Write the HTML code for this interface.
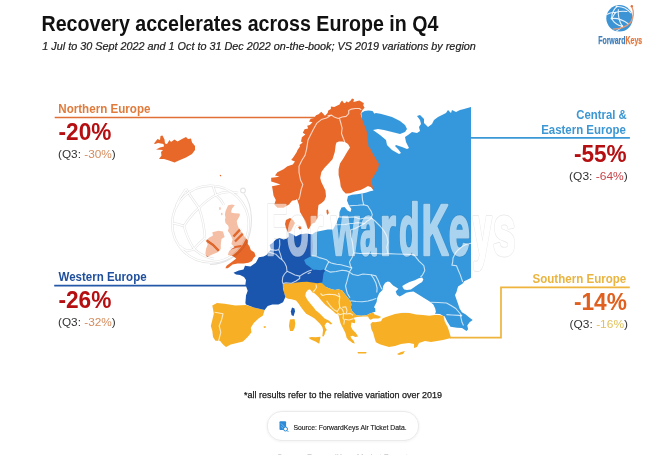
<!DOCTYPE html>
<html><head><meta charset="utf-8">
<style>
html,body{margin:0;padding:0;background:#fff;}
body{width:650px;height:455px;overflow:hidden;position:relative;}
svg{position:absolute;left:0;top:0;filter:blur(0.35px);}
text{font-family:"Liberation Sans",Arial,sans-serif;}
</style></head><body>
<svg width="650" height="455" viewBox="0 0 650 455">
<defs>
  <filter id="blur1" x="-5%" y="-5%" width="110%" height="110%"><feGaussianBlur stdDeviation="0.35"/></filter>
  <filter id="pillsh" x="-10%" y="-30%" width="120%" height="160%"><feDropShadow dx="0" dy="0.5" stdDeviation="1" flood-color="#000" flood-opacity="0.08"/></filter>
</defs>
<!-- Title -->
<text x="41.51" y="30.6" font-size="22" font-weight="bold" fill="#111" textLength="396.92" lengthAdjust="spacingAndGlyphs">Recovery accelerates across Europe in Q4</text>
<text x="42.3" y="50.3" font-size="10.6" font-style="italic" fill="#222" textLength="433.54" lengthAdjust="spacingAndGlyphs" stroke="#222" stroke-width="0.2">1 Jul to 30 Sept 2022 and 1 Oct to 31 Dec 2022 on-the-book; VS 2019 variations by region</text>
<!-- connector lines -->
<line x1="54.7" y1="117.5" x2="316" y2="117.5" stroke="#e07035" stroke-width="1.7"/>
<line x1="54.2" y1="285.7" x2="246" y2="285.7" stroke="#2458a8" stroke-width="1.7"/>
<line x1="470" y1="137.8" x2="629.9" y2="137.8" stroke="#3a98d6" stroke-width="1.7"/>
<polyline points="629.8,287.4 501,287.4 501,337.6 450,337.6" fill="none" stroke="#eeb43c" stroke-width="1.7"/>

<!-- MAP -->
<g id="map">
<path d="M361.3,113.1 L364.6,111.1 L368.5,110.4 L372.5,111.1 L374.5,113.7 L375.8,113.1 L380.4,113.7 L385,115.1 L392,117 L400,121 L405,125 L407,129 L405,132 L400,134 L392,132 L384,130 L378,129 L373,130 L380,135 L386,140 L387,145 L392,150 L399,154 L401,153 L398,149 L395,146 L396,145 L402,147 L407,149 L409,148 L406,142 L405,137 L408,135 L412,132 L417,133 L420,131 L419,127 L421,124 L420,120 L417,116 L420,115 L424,119 L424,123 L428,127 L432,124 L434,120 L438,117 L442,115 L446,113 L448,110 L451,113 L452,110 L456,112 L460,110 L464,109 L471,107 L471,277.4 L470.4,278.2 L467.3,279.7 L464.2,281.2 L462.7,283.5 L460.4,285.1 L458.1,286.6 L457.3,288.9 L456.5,292 L455,295.1 L455.8,297.5 L456.5,299.5 L458,303.8 L459.6,308.5 L461.9,312.3 L465.8,314.6 L469.6,317.7 L472.7,320 L469.6,322.3 L467.3,325.4 L468.1,329.2 L466.5,331 L462,328 L457,327.8 L450.5,326.8 L447.5,322 L445,317 L440,314 L420,313 L400,312 L378,312 L374,312 L370,313.5 L366.6,315.2 L361.4,315.8 L356.1,315.2 L354.1,313.2 L352.1,311 L350.8,307.7 L351.4,304.4 L350.8,301.8 L348.8,299.1 L346.8,296.5 L344.2,293.2 L342.2,290.5 L338.2,289.2 L335,289.9 L331.6,289.2 L326.4,287.3 L322.4,285.9 L318,282 L300,278 L298,258 L302,240 L310,236 L315.4,232 L327.7,229.6 L333,229.5 L335.6,224.8 L336.9,222.2 L338.2,218.2 L339.3,216.9 L339.5,212 L341.5,207.5 L344.5,207 L347.5,210.5 L350.5,212 L351.4,209 L349.2,205.9 L347,200.4 L348,196 L352,194.8 L357,194.2 L362,193.6 L366.5,192.5 L370,191.2 L373.5,190.5 L370,185 L366,150 L362,120 Z" fill="#3598dc" />
<path d="M375.3,308.5 L374,307.2 L376.6,301.9 L377.2,298 L379.2,293.3 L382.5,290 L383.2,286.1 L385.2,282.8 L387.8,281.5 L389.8,282.1 L393.1,285.4 L396.4,287.4 L398.3,288.7 L395.7,291.4 L397,294.7 L399.7,296.6 L403,294.7 L406.2,292.7 L409.5,292 L413.5,291.4 L418.8,294.7 L424,298 L429.3,301.2 L433.3,304.5 L435.2,308.5 L435.9,311.8 L434.6,315.1 L429.3,315.7 L422.7,315.1 L416.1,314.4 L409.5,313.1 L403,312.4 L396.4,313.1 L389.8,314.4 L383.2,315.7 L377.9,317.1 L375.3,315.7 Z" fill="#fff" />
<path d="M403,288.1 L402.3,286.1 L405.6,284.1 L409.5,282.1 L414.8,280.2 L418.8,278.2 L422.1,277.5 L423.4,279.5 L422.1,282.1 L418.8,284.1 L414.8,286.7 L410.9,289.4 L406.9,290 L404.3,289.4 Z" fill="#fff" />
<path d="M300,280 L305.8,281 L310.4,281.5 L314.2,282 L318,282 L322.4,283.5 L324,285 L326.4,287.3 L331.6,289.2 L335,289.9 L338.2,289.2 L342.2,290.5 L344.2,293.2 L346.8,296.5 L348.8,299.1 L350.8,301.8 L351.4,304.4 L350.8,307.7 L352.1,311 L354.1,313.2 L356.1,315.2 L361.4,315.8 L366.6,315.2 L370,313.5 L373.2,312.5 L374.6,314.5 L378.5,315.8 L381.2,317.1 L378.5,318.5 L373.2,318.5 L370.6,319.8 L368.6,318.5 L367.3,316.5 L362.5,316.6 L357,317.1 L353.7,317.7 L355.3,321 L354.8,323.2 L351.5,322.5 L350.9,326.5 L352.6,329.8 L355.9,333.1 L358.1,336.4 L355.3,336.9 L352.6,335.8 L350.4,336.4 L351.5,338.6 L353.7,340.8 L354.8,343.5 L352.6,343 L350.4,341.3 L348.2,339.7 L346.5,337.5 L346,335.3 L345.4,333.1 L343.8,329.8 L342.1,326.5 L340.5,323.2 L339.4,318.8 L338.3,314.4 L335.6,313.6 L333,311 L329,307.7 L325,304.4 L321.8,301.1 L318.5,297.1 L314.5,293.2 L312.5,292.5 L309.9,289.2 L307.9,289.9 L305.9,292.5 L305.3,295.8 L307.3,299.8 L310.5,303.7 L314.5,308.4 L315.4,310 L320,313.8 L324.6,318.5 L329.2,320.8 L332.3,323.8 L330.8,324.6 L327.7,322.3 L326.2,323.1 L324.6,325.4 L325.4,327.7 L326.9,330 L325.4,331.5 L324.6,334.6 L323.5,336.5 L322.3,336.2 L322.7,333.1 L323.1,330 L322.3,326.9 L320,323.8 L317.7,321.5 L314.6,318.5 L310.8,316.2 L306.2,313.8 L303.1,310 L300.5,306.5 L298.5,303.5 L296,300.5 L291.6,299.3 L288,298.8 L285.5,297.5 L283.5,291 L282.5,284 L288,282.5 L294,281.5 Z" fill="#f7b025" />
<path d="M370.5,324 L372.5,322 L375,322.3 L378,321.8 L381,321.2 L382.5,318.5 L386,317 L389,316 L395,314 L401,313 L409.5,313.1 L416.1,314.4 L422.7,315.1 L429.3,315.7 L434.6,315.1 L439,315 L444,316 L445,321 L447,325 L449,331 L451,338 L443,340 L437,341 L431,342 L425,341 L419,343 L417,347 L414,348 L414,344 L409,343 L401,344 L395,346 L389,347 L383.8,345.5 L379.8,344.2 L375.9,342.2 L374.6,338.2 L373.2,333 L371.3,329 Z" fill="#f7b025" />
<path d="M212.3,305.4 L217,303 L224.6,303.8 L235.4,305.4 L246,305 L253.8,307.5 L264.6,310 L263,315.4 L258.5,318.5 L253.8,323 L250.8,327.7 L251.5,332.3 L247.7,337 L243,341.5 L237,343 L230.8,344.6 L226,347 L223,344.6 L220,340.8 L215.4,340.8 L213,337 L212.3,330.8 L210.8,326 L212.3,320 L213.8,313.8 L213,309 Z" fill="#f7b025" />
<path d="M290,319.5 L294.5,319 L295.3,323.5 L294.6,328 L293,331 L290,331 L289,326 L289.5,322 Z" fill="#f7b025" />
<path d="M308.5,337.7 L311.5,336.9 L315.4,337.3 L320.5,336.8 L319.8,340.8 L319.2,343.8 L315.4,341.5 L310.8,339.6 Z" fill="#f7b025" />
<path d="M357.4,352.1 L366.6,352.1 L366,353.4 L358.1,353.4 Z" fill="#f7b025" />
<path d="M397,354 L401,352 L405,351 L403,354 L399,355 Z" fill="#f7b025" />
<path d="M263.5,326.5 L265.5,326 L266,327.5 L264,328 Z" fill="#f7b025" />
<path d="M233.5,272.7 L238.8,270.4 L243.5,269.6 L245,265.8 L250.4,266.5 L255.8,262.7 L258.8,257.3 L263.5,256.5 L266.5,255 L268.8,252 L271,249.6 L269.6,245 L272.7,242.7 L275.8,239.6 L279.6,238 L283.5,239.6 L286.5,238.8 L288.8,236.5 L288.5,232.5 L292.7,234.2 L295.8,236.5 L300.4,234.2 L306.5,233.5 L311,234.2 L312.3,234.2 L312.5,240 L313,246.5 L312.5,252 L311.9,255.8 L307.1,258.2 L304.1,260 L305.9,264.2 L309.5,266.7 L313.1,269.7 L316.1,269.7 L320.4,270.3 L324,269.4 L326,270.5 L324,272 L323.4,273.9 L322.8,278.7 L322.3,282.3 L317.7,283.3 L312.3,282.5 L307,281.8 L301.5,282 L296.5,282.5 L291.3,283.6 L286,283.5 L282.8,283.8 L283,289 L285.4,297 L283,302.3 L278.5,304.6 L272.3,304.6 L267.7,306 L264.6,310 L253.8,307.5 L246,304.6 L245.4,303 L246,295.4 L247.7,290.8 L245.4,284.6 L246,280 L244,277 L240,275 L236,274.5 Z" fill="#1a56ae" />
<path d="M292,307.5 L294.5,308.5 L295,311.5 L293.5,316.3 L291.5,315 L290.8,311.5 Z" fill="#1a56ae" />
<path d="M154,143.5 L157.5,139 L160,140 L160.5,136 L162.5,135.5 L164.5,139.5 L165,143.5 L167,144 L169.5,140 L171,142 L174.5,139.5 L177.5,141.5 L182,139 L186,137 L188,139 L191,138.5 L192,142.5 L195,146 L195,150 L192,154 L186,157.5 L180,160 L174.5,162.5 L169,160.5 L164,159 L159,159 L161.5,155.5 L161,152 L163,150 L156,149.5 L160,147.5 L164,146.5 L163.5,144 L158,143 L155,144 Z" fill="#e8682a" />
<path d="M219.8,174.8 L221,175 L221.2,176.2 L220,176.3 Z" fill="#e8682a" />
<path d="M228.2,205.3 L232.1,204.6 L234.8,205.3 L232.1,208.5 L231.2,211.2 L231.5,212.8 L234.8,213.2 L239.4,213.5 L240,215.1 L238.7,217.8 L236.8,221.1 L237.4,224.4 L238.7,228 L239.9,229.5 L242.3,233.1 L244.7,236.8 L247.8,240.4 L247.8,244 L249.6,246.4 L250.8,250.1 L254.4,252.5 L255.6,256.1 L253.2,258.5 L252,261 L248.4,262.8 L243.5,263.4 L237.5,263.4 L232.6,264.6 L227.8,268.2 L225.4,268.2 L226.6,265.8 L231.4,262.2 L236.3,258.5 L232.6,256.1 L227.8,254.9 L229,251.3 L231.4,248.9 L234.5,247 L231.4,244 L232.6,239.2 L230.2,234.3 L227.8,230.7 L228.8,228 L228.2,225.7 L225.5,223 L224.9,219.8 L225.5,217.8 L224.9,214.5 L225.5,211.2 L226.9,207.9 Z" fill="#e8682a" />
<path d="M219,207.5 L220.5,207 L220.8,209.5 L219.5,210 Z" fill="#e8682a" />
<path d="M221,213 L222.3,212.8 L222.5,215 L221.3,215.2 Z" fill="#e8682a" />
<path d="M212.3,232.3 L218.5,230.8 L223,231.5 L224.6,237 L221.5,239 L220.8,244.6 L220.8,249 L217.7,252.3 L212.3,254.6 L207,257 L205.4,253.8 L206,249 L207.7,244.6 L206,240.8 L209,237.7 L213,235.4 Z" fill="#e8682a" />
<path d="M360.6,113.7 L362.6,109.8 L364.6,107.8 L363.2,105.2 L363.9,103.2 L361.9,101.9 L359.3,100.5 L356.6,101.2 L353.4,101.9 L354,99.2 L352,98.6 L350.7,100.5 L348.1,102.5 L346.8,101.2 L344.8,103.2 L343.5,102.5 L342.1,100.5 L340.8,101.9 L339.5,104.5 L336.9,105.8 L334.2,107.1 L330.9,106.5 L330.9,109.1 L328.3,110.4 L327.6,113.1 L325,115.7 L321.3,111.7 L318.6,114.3 L316,115.2 L314.2,117.9 L310.7,118.7 L309,121.4 L312.5,122.3 L309.8,124.9 L307.2,125.8 L308.1,128.4 L304.6,129.3 L302.8,132.8 L305.4,134.6 L301.9,137.2 L301,141.6 L302.8,142.5 L299.5,145 L300,146.5 L297.5,150 L296.6,152.3 L294.5,155.5 L293.5,157 L291.2,160 L295,161.5 L292.8,164.6 L287.4,166.2 L283.5,169.2 L277.4,172.3 L275,175.4 L279.5,176.5 L276,177.3 L271.2,177.7 L271.2,181.5 L276,183 L280.5,184.6 L276,185.5 L272,186.2 L272.8,190.8 L273.5,195.4 L275.8,200 L274.3,204.6 L277.4,207.7 L283.5,207.7 L289,204.6 L292,200.8 L295.8,200 L297,199 L299,205 L300,212 L303,217 L305.2,222.5 L307.4,228 L308.8,229.2 L310.5,226 L312,223.8 L315,222.5 L317.5,218 L317.8,210.3 L318.5,205 L321.7,203.1 L324.4,200.5 L326,196.4 L325.5,190.7 L323.5,186.4 L321.3,182.1 L320.2,177.9 L321.4,172.1 L324.3,167.9 L328.6,163.6 L332.5,159.3 L334.8,152.1 L335.7,145 L336.5,142.5 L339,141.6 L342.1,141.4 L345,142.1 L348,144 L350,147.5 L347.1,152.1 L343.6,157.9 L340,163.6 L338.6,169.3 L338.6,175 L340,180.7 L340.7,186.4 L342.9,190.7 L345.7,193.6 L350.1,193.2 L355.4,191.2 L360.6,189.9 L364.6,187.9 L367.9,185.9 L371.2,187.2 L373.5,190 L372,184 L372,179 L375,174 L378,169 L379,164 L376,159 L373,154 L370,148 L368.5,146.7 L367.9,140.1 L367.2,133.5 L365.9,128.2 L363.9,124.3 L362.6,120.3 L361.3,116.4 Z" fill="#e8682a" />
<path d="M326.5,210 L328,209.5 L328.8,213 L327.5,215 L326.6,213 Z" fill="#e8682a" />
<path d="M286,220 L290,218 L293,220 L295,223 L293,227 L291,231 L288,232.5 L286,228 L285,224 Z" fill="#e8682a" />
<path d="M298,227 L301,226 L302,228.5 L299.5,229.5 Z" fill="#e8682a" />
<g fill="none" stroke="#fff" stroke-opacity="0.72" stroke-width="1.1" stroke-linejoin="round"><path d="M327.6,115.7 L331.6,115.1 L334.2,117 L338.2,118.4 L342.1,117 L346.1,116.4 L348.7,113.7 L348.7,110.4 L351.4,109.1 L355.3,108.5 L359.3,108.5 L361.3,109.8"/><path d="M330.3,115.7 L326.5,117.9 L321.3,119.6 L316.9,123.1 L313.4,129.3 L310.5,135 L308,140 L306.6,149.2 L305,155.4 L302,160 L299,166.2 L299,172.3 L300.5,180 L302.8,184.6 L301.2,189.2 L299.7,197 L298.5,200"/><path d="M339.5,118.4 L340.8,123 L342.1,128.2 L341.5,133.5 L343.5,138.8 L344.8,142.1"/><path d="M371.2,218 L369.9,219.5 L367.2,220.9 L364.6,223.5 L358,222.6 L352.7,223.5 L350.1,223.5 L345,224.5 L336,224.8"/><path d="M362,193.6 L362.4,199.3 L363.5,204.2 L364,205"/><path d="M349.2,205.9 L353,205.5 L358,205.3 L363.5,204.8 L367.9,205.9"/><path d="M367.9,205.9 L369,208 L371.2,211.4 L372.3,214.7 L371.2,218"/><path d="M339.3,216.9 L347,217.4 L354.7,216.9 L360.2,219 L364.6,218 L370.1,218 L371.2,218"/><path d="M371,274.7 L373.5,278.3 L375.9,283.1 L377.1,288 L376.8,292.5"/><path d="M353.6,252.8 L360,253.5 L368,253.2 L376,253.5 L384,254 L388,253.6"/><path d="M388,253.6 L396,254 L405,254.3 L413.9,254.6 L418.8,260.8 L423.8,265.7 L424.8,270.5 L422.6,274.8 L420.5,277"/><path d="M371.2,218 L375,221 L380,226 L384,231 L386.8,236 L388,242.3 L386.8,247.2 L388,253.6"/><path d="M364.6,223.5 L360,226 L355,228.5 L350.5,230 L351.2,237.4 L352.4,242.3 L353.6,252.8"/><path d="M353.6,252.8 L352.4,257 L349.5,262 L350.5,266 L351.8,267.9 L349.4,272.1"/><path d="M350.5,300.7 L356,301.5 L362.3,301.8 L368,301 L373.1,299.6 L376.3,298.5"/><path d="M311.9,255.8 L316.1,256.4 L319.2,257.6 L323.4,258.8 L326.4,259.7 L328.8,261.8 L331.2,263 L333.7,263.6 L336.7,264.2 L340.9,264.8 L344.5,265.7 L348.2,266.7 L351.8,267.9"/><path d="M328.8,261.8 L327,265 L325.2,269.1"/><path d="M324.5,269.5 L330,272.1 L336.1,271.5 L342.1,270.3 L347,270.9 L349.4,272.1"/><path d="M349.4,272.1 L348.2,276.3 L347,281.2 L345.5,286 L347.2,293.2 L350,297.7"/><path d="M349.4,272.1 L353,274.5 L358,275.5 L363,274 L371,274.7 L375.9,275.9 L378.3,280.7 L380.1,285.6 L381.9,289.2"/><path d="M430.4,302.3 L438,302.5 L446.5,303 L451,305.5 L455.8,308.5 L459.6,313 L462,316"/><path d="M446.5,314.6 L452,315 L458.8,315.4 L462,316"/><path d="M460.4,314.6 L461,318 L462,322.3 L463.5,325.4"/><path d="M471,243.2 L466,244.5 L462,246.6 L458,250 L455.4,253.2 L453,258 L452.7,262 L451.9,265.1 L456.5,265.8 L458.1,269.7 L460.4,275.1 L462.7,282"/><path d="M268.8,252 L272,253 L275.8,254.2 L279.6,258 L282,259.6"/><path d="M271,249.6 L275.8,250.4 L278.8,249.6"/><path d="M279.6,239.6 L279.8,245 L278.8,249.6 L280.4,254.2 L282,259.6"/><path d="M307.7,273.8 L310.8,272.3"/><path d="M282,259.6 L284.5,262.5 L286.4,266.4 L287,271.3"/><path d="M287,271.3 L284.5,274 L282.8,277 L282.3,281 L282.8,283.5"/><path d="M287,271.3 L291,273 L295,275 L299.7,276.1"/><path d="M282.8,283.5 L286,282.7 L291.3,283.2 L296.1,281 L299.7,278.5 L299.7,276.1"/><path d="M299.7,276.1 L303.4,273.7 L308.2,271.3 L311.8,270.1"/><path d="M214.6,312.3 L219,313 L223,313.8 L221.5,320 L219.2,326 L220.8,332.3 L219.2,338.5 L218.5,340.8"/><path d="M316,284.5 L316.5,287.5 L314.5,290.5 L313,292"/><path d="M320.5,293.5 L322.6,295.5 L326,294.5 L329.2,294.2 L332.5,294.5 L335.8,294.9 L339.8,296.9"/><path d="M338.5,292.9 L339.8,296.9 L339.1,302.1 L339.8,307.4"/><path d="M326.6,300.8 L328.5,303.5 L330.5,306.1 L332.5,308.3 L334.5,310.1 L337.1,311.4 L338.5,309.5 L339.8,307.4 L342.4,309.4 L343.7,312.7"/><path d="M337.1,312.7 L339.8,314.7 L343.7,313.4"/><path d="M342.4,307.4 L345.7,306.8 L347,310.1 L346.4,313.4"/><path d="M343.7,313.4 L346.4,314 L350.3,313.4 L353,315.3"/><path d="M343.7,313.4 L343.1,318 L344.4,320.6 L343.7,324.6"/><path d="M344.4,319.3 L349,320 L353.6,318.6"/><path d="M367.3,316.5 L368.5,318 L368.6,319.5"/><path d="M444,316 L445,321 L447,325 L449,327"/></g>
</g>


<!-- Watermark -->
<g id="wm">
  <defs>
    <mask id="gm" maskUnits="userSpaceOnUse" x="150" y="170" width="120" height="110">
      <circle cx="210.5" cy="224" r="38.3" fill="#fff"/>
      <g stroke="#000" stroke-width="2.2" fill="none"><path d="M186,189 Q193,200 199,208"/><path d="M199,208 Q208,199 216,195"/><path d="M216,195 Q226,190 238,193"/><path d="M199,208 Q190,216 184,226"/><path d="M184,226 Q178,224 172.5,223"/><path d="M184,226 Q187,238 194,249"/><path d="M194,249 Q203,257 214,259"/><path d="M199,208 Q204,222 205,238"/><path d="M216,195 Q221,199 224,205"/><path d="M194,249 Q186,253 180,246"/><path d="M233.5,236.5 L241,228.5"/><path d="M235,241.5 L243.5,233"/><path d="M230.5,248.5 Q236,246.5 241.5,246"/><path d="M206,240 Q213,244 219,251"/><path d="M205,238 Q198,244 194,249"/><path d="M186,189 Q180,197 176,206"/><path d="M216,195 Q214,189 213,186"/></g>
    </mask>
    <mask id="bandin" maskUnits="userSpaceOnUse" x="150" y="170" width="120" height="110">
      <rect x="150" y="170" width="120" height="110" fill="#fff"/>
      <g stroke="#000" stroke-width="1.3" fill="none"><path d="M186,189 Q193,200 199,208"/><path d="M199,208 Q208,199 216,195"/><path d="M216,195 Q226,190 238,193"/><path d="M199,208 Q190,216 184,226"/><path d="M184,226 Q178,224 172.5,223"/><path d="M184,226 Q187,238 194,249"/><path d="M194,249 Q203,257 214,259"/><path d="M199,208 Q204,222 205,238"/><path d="M216,195 Q221,199 224,205"/><path d="M194,249 Q186,253 180,246"/><path d="M233.5,236.5 L241,228.5"/><path d="M235,241.5 L243.5,233"/><path d="M230.5,248.5 Q236,246.5 241.5,246"/><path d="M206,240 Q213,244 219,251"/><path d="M205,238 Q198,244 194,249"/><path d="M186,189 Q180,197 176,206"/><path d="M216,195 Q214,189 213,186"/><circle cx="210.5" cy="224" r="38.3"/></g>
    </mask>
    <mask id="txtout" maskUnits="userSpaceOnUse" x="250" y="190" width="280" height="90">
      <rect x="250" y="190" width="280" height="90" fill="#fff"/>
      %<text x="265.87" y="255" font-size="72.5" font-weight="bold" textLength="21.55" lengthAdjust="spacingAndGlyphs" fill="#000" stroke="#000" stroke-width="2.6" stroke-linejoin="round">F</text><text x="286.71" y="255" font-size="72.5" font-weight="bold" textLength="22.03" lengthAdjust="spacingAndGlyphs" fill="#000" stroke="#000" stroke-width="2.6" stroke-linejoin="round">o</text><text x="308.68" y="255" font-size="72.5" font-weight="bold" textLength="14.24" lengthAdjust="spacingAndGlyphs" fill="#000" stroke="#000" stroke-width="2.6" stroke-linejoin="round">r</text><text x="331.2" y="255" font-size="72.5" font-weight="bold" textLength="28.1" lengthAdjust="spacingAndGlyphs" fill="#000" stroke="#000" stroke-width="2.6" stroke-linejoin="round">w</text><text x="359.88" y="255" font-size="72.5" font-weight="bold" textLength="16.44" lengthAdjust="spacingAndGlyphs" fill="#000" stroke="#000" stroke-width="2.6" stroke-linejoin="round">a</text><text x="379.71" y="255" font-size="72.5" font-weight="bold" textLength="16.29" lengthAdjust="spacingAndGlyphs" fill="#000" stroke="#000" stroke-width="2.6" stroke-linejoin="round">r</text><text x="399.01" y="255" font-size="72.5" font-weight="bold" textLength="20.55" lengthAdjust="spacingAndGlyphs" fill="#000" stroke="#000" stroke-width="2.6" stroke-linejoin="round">d</text><text x="421.58" y="255" font-size="72.5" font-weight="bold" textLength="27.43" lengthAdjust="spacingAndGlyphs" fill="#000" stroke="#000" stroke-width="2.6" stroke-linejoin="round">K</text><text x="448.63" y="255" font-size="72.5" font-weight="bold" textLength="21.09" lengthAdjust="spacingAndGlyphs" fill="#000" stroke="#000" stroke-width="2.6" stroke-linejoin="round">e</text><text x="472.63" y="255" font-size="72.5" font-weight="bold" textLength="19.03" lengthAdjust="spacingAndGlyphs" fill="#000" stroke="#000" stroke-width="2.6" stroke-linejoin="round">y</text><text x="493.12" y="255" font-size="72.5" font-weight="bold" textLength="22.54" lengthAdjust="spacingAndGlyphs" fill="#000" stroke="#000" stroke-width="2.6" stroke-linejoin="round">s</text>%
    </mask>
  </defs>
  <rect x="160" y="180" width="100" height="95" fill="#fff" fill-opacity="0.58" mask="url(#gm)"/>
  <g mask="url(#bandin)" stroke="#000" stroke-opacity="0.11" stroke-width="2.4" fill="none"><path d="M186,189 Q193,200 199,208"/><path d="M199,208 Q208,199 216,195"/><path d="M216,195 Q226,190 238,193"/><path d="M199,208 Q190,216 184,226"/><path d="M184,226 Q178,224 172.5,223"/><path d="M184,226 Q187,238 194,249"/><path d="M194,249 Q203,257 214,259"/><path d="M199,208 Q204,222 205,238"/><path d="M216,195 Q221,199 224,205"/><path d="M194,249 Q186,253 180,246"/><path d="M233.5,236.5 L241,228.5"/><path d="M235,241.5 L243.5,233"/><path d="M230.5,248.5 Q236,246.5 241.5,246"/><path d="M206,240 Q213,244 219,251"/><path d="M205,238 Q198,244 194,249"/><path d="M186,189 Q180,197 176,206"/><path d="M216,195 Q214,189 213,186"/><circle cx="210.5" cy="224" r="38.3"/></g>
  <g stroke="#000" stroke-opacity="0.11" stroke-width="1.1" fill="none">
    <path d="M244,193.5 C253,206 254,228 246,244 C238,257 224,264 210,264.5"/>
    <circle cx="243" cy="190.5" r="2.4"/>
  </g>
  <g opacity="0.58">
    %<text x="265.87" y="255" font-size="72.5" font-weight="bold" textLength="21.55" lengthAdjust="spacingAndGlyphs" fill="#fff" stroke="#fff" stroke-width="2.6" stroke-linejoin="round">F</text><text x="286.71" y="255" font-size="72.5" font-weight="bold" textLength="22.03" lengthAdjust="spacingAndGlyphs" fill="#fff" stroke="#fff" stroke-width="2.6" stroke-linejoin="round">o</text><text x="308.68" y="255" font-size="72.5" font-weight="bold" textLength="14.24" lengthAdjust="spacingAndGlyphs" fill="#fff" stroke="#fff" stroke-width="2.6" stroke-linejoin="round">r</text><text x="331.2" y="255" font-size="72.5" font-weight="bold" textLength="28.1" lengthAdjust="spacingAndGlyphs" fill="#fff" stroke="#fff" stroke-width="2.6" stroke-linejoin="round">w</text><text x="359.88" y="255" font-size="72.5" font-weight="bold" textLength="16.44" lengthAdjust="spacingAndGlyphs" fill="#fff" stroke="#fff" stroke-width="2.6" stroke-linejoin="round">a</text><text x="379.71" y="255" font-size="72.5" font-weight="bold" textLength="16.29" lengthAdjust="spacingAndGlyphs" fill="#fff" stroke="#fff" stroke-width="2.6" stroke-linejoin="round">r</text><text x="399.01" y="255" font-size="72.5" font-weight="bold" textLength="20.55" lengthAdjust="spacingAndGlyphs" fill="#fff" stroke="#fff" stroke-width="2.6" stroke-linejoin="round">d</text><text x="421.58" y="255" font-size="72.5" font-weight="bold" textLength="27.43" lengthAdjust="spacingAndGlyphs" fill="#fff" stroke="#fff" stroke-width="2.6" stroke-linejoin="round">K</text><text x="448.63" y="255" font-size="72.5" font-weight="bold" textLength="21.09" lengthAdjust="spacingAndGlyphs" fill="#fff" stroke="#fff" stroke-width="2.6" stroke-linejoin="round">e</text><text x="472.63" y="255" font-size="72.5" font-weight="bold" textLength="19.03" lengthAdjust="spacingAndGlyphs" fill="#fff" stroke="#fff" stroke-width="2.6" stroke-linejoin="round">y</text><text x="493.12" y="255" font-size="72.5" font-weight="bold" textLength="22.54" lengthAdjust="spacingAndGlyphs" fill="#fff" stroke="#fff" stroke-width="2.6" stroke-linejoin="round">s</text>%
  </g>
  %<text x="265.87" y="255" font-size="72.5" font-weight="bold" textLength="21.55" lengthAdjust="spacingAndGlyphs" fill="none" stroke="#000" stroke-opacity="0.1" stroke-width="4" stroke-linejoin="round" mask="url(#txtout)">F</text><text x="286.71" y="255" font-size="72.5" font-weight="bold" textLength="22.03" lengthAdjust="spacingAndGlyphs" fill="none" stroke="#000" stroke-opacity="0.1" stroke-width="4" stroke-linejoin="round" mask="url(#txtout)">o</text><text x="308.68" y="255" font-size="72.5" font-weight="bold" textLength="14.24" lengthAdjust="spacingAndGlyphs" fill="none" stroke="#000" stroke-opacity="0.1" stroke-width="4" stroke-linejoin="round" mask="url(#txtout)">r</text><text x="331.2" y="255" font-size="72.5" font-weight="bold" textLength="28.1" lengthAdjust="spacingAndGlyphs" fill="none" stroke="#000" stroke-opacity="0.1" stroke-width="4" stroke-linejoin="round" mask="url(#txtout)">w</text><text x="359.88" y="255" font-size="72.5" font-weight="bold" textLength="16.44" lengthAdjust="spacingAndGlyphs" fill="none" stroke="#000" stroke-opacity="0.1" stroke-width="4" stroke-linejoin="round" mask="url(#txtout)">a</text><text x="379.71" y="255" font-size="72.5" font-weight="bold" textLength="16.29" lengthAdjust="spacingAndGlyphs" fill="none" stroke="#000" stroke-opacity="0.1" stroke-width="4" stroke-linejoin="round" mask="url(#txtout)">r</text><text x="399.01" y="255" font-size="72.5" font-weight="bold" textLength="20.55" lengthAdjust="spacingAndGlyphs" fill="none" stroke="#000" stroke-opacity="0.1" stroke-width="4" stroke-linejoin="round" mask="url(#txtout)">d</text><text x="421.58" y="255" font-size="72.5" font-weight="bold" textLength="27.43" lengthAdjust="spacingAndGlyphs" fill="none" stroke="#000" stroke-opacity="0.1" stroke-width="4" stroke-linejoin="round" mask="url(#txtout)">K</text><text x="448.63" y="255" font-size="72.5" font-weight="bold" textLength="21.09" lengthAdjust="spacingAndGlyphs" fill="none" stroke="#000" stroke-opacity="0.1" stroke-width="4" stroke-linejoin="round" mask="url(#txtout)">e</text><text x="472.63" y="255" font-size="72.5" font-weight="bold" textLength="19.03" lengthAdjust="spacingAndGlyphs" fill="none" stroke="#000" stroke-opacity="0.1" stroke-width="4" stroke-linejoin="round" mask="url(#txtout)">y</text><text x="493.12" y="255" font-size="72.5" font-weight="bold" textLength="22.54" lengthAdjust="spacingAndGlyphs" fill="none" stroke="#000" stroke-opacity="0.1" stroke-width="4" stroke-linejoin="round" mask="url(#txtout)">s</text>%
</g>

<!-- Panels -->
<text x="58.26" y="112.5" font-size="12.3" font-weight="bold" fill="#e07b3c" textLength="92.21" lengthAdjust="spacingAndGlyphs">Northern Europe</text>
<text x="58.58" y="140" font-size="24.6" font-weight="bold" fill="#b50f12" textLength="52.81" lengthAdjust="spacingAndGlyphs">-20%</text>
<text x="58.0" y="157.8" font-size="11.8" fill="#333" textLength="57.7" lengthAdjust="spacingAndGlyphs">(Q3: <tspan fill="#d48c5e">-30%</tspan>)</text>
<text x="58.5" y="281.0" font-size="12.3" font-weight="bold" fill="#1f4f9c" textLength="88.07" lengthAdjust="spacingAndGlyphs">Western Europe</text>
<text x="58.38" y="308.4" font-size="24.6" font-weight="bold" fill="#b50f12" textLength="53.01" lengthAdjust="spacingAndGlyphs">-26%</text>
<text x="58.0" y="325.5" font-size="11.8" fill="#333" textLength="57.7" lengthAdjust="spacingAndGlyphs">(Q3: <tspan fill="#d48c5e">-32%</tspan>)</text>
<text x="576.3" y="118.9" font-size="12.3" font-weight="bold" fill="#3c97d3" textLength="50.42" lengthAdjust="spacingAndGlyphs">Central &amp;</text>
<text x="541.17" y="133.6" font-size="12.3" font-weight="bold" fill="#3c97d3" textLength="84.63" lengthAdjust="spacingAndGlyphs">Eastern Europe</text>
<text x="573.88" y="161.8" font-size="24.6" font-weight="bold" fill="#b50f12" textLength="52.71" lengthAdjust="spacingAndGlyphs">-55%</text>
<text x="569.08" y="179.6" font-size="11.8" fill="#333" textLength="58.73" lengthAdjust="spacingAndGlyphs">(Q3: <tspan fill="#c8454a">-64%</tspan>)</text>
<text x="532.46" y="283.3" font-size="12.3" font-weight="bold" fill="#e9b43f" textLength="93.81" lengthAdjust="spacingAndGlyphs">Southern Europe</text>
<text x="573.88" y="310" font-size="24.6" font-weight="bold" fill="#e0601f" textLength="53.01" lengthAdjust="spacingAndGlyphs">-14%</text>
<text x="569.59" y="327.8" font-size="11.8" fill="#333" textLength="58.42" lengthAdjust="spacingAndGlyphs">(Q3: <tspan fill="#e2c25c">-16%</tspan>)</text>
<!-- Logo -->
<g id="logo">
  <circle cx="619.5" cy="18.3" r="13.2" fill="#3d94d5"/>
  <g stroke="#e6f3fc" stroke-width="1.05" fill="none" stroke-linecap="round">
    <path d="M616.7,6.6 Q611.5,11.5 611.7,18.5 Q614.5,24.5 622.3,26.3"/>
    <path d="M616.7,6.6 Q624.5,6 630.8,12.8"/>
    <path d="M618.3,9.5 Q617.6,19 622.3,26.3"/>
    <path d="M611.7,18.5 Q620,17.5 628.5,24"/>
    <path d="M615.3,12.6 Q621,10.5 627,11.5"/>
    <path d="M606.8,14.5 Q611,12 615.3,12.6 L611.7,18.5"/>
    <path d="M622.3,26.3 Q620,29.5 616,31.2"/>
  </g>
  <g fill="#f4faff"><circle cx="616.7" cy="6.6" r="1"/><circle cx="611.7" cy="18.5" r="1.1"/><circle cx="622.3" cy="26.3" r="1"/><circle cx="615.3" cy="12.6" r="0.9"/></g>
  <path d="M631.8,6.6 Q635.5,15 630.5,22.5 Q624.5,28.8 612.8,29.2" stroke="#e99872" stroke-width="1.3" fill="none"/>
  <circle cx="631.8" cy="6.3" r="1.2" fill="#e2703e"/>
  <text x="598.21" y="44" font-size="11.8" font-weight="bold" fill="#4a7fb5" textLength="43.93" lengthAdjust="spacingAndGlyphs" stroke-width="0.25"><tspan fill="#3f7fb9" stroke="#3f7fb9">Forward</tspan><tspan fill="#e2763a" stroke="#e2763a">Keys</tspan></text>
</g>

<!-- Footer -->
<text x="243.9" y="397.8" font-size="9" fill="#1a1a1a" textLength="198.01" lengthAdjust="spacingAndGlyphs" stroke="#1a1a1a" stroke-width="0.25">*all results refer to the relative variation over 2019</text>
<rect x="267.2" y="411.4" width="151.5" height="29.2" rx="14.6" fill="#fff" stroke="#e4e4e4" stroke-width="0.8" filter="url(#pillsh)"/>
<g>
  <rect x="279.5" y="421.3" width="6.6" height="8.7" rx="0.9" fill="#2d8ad6"/><path d="M281,423.5 L284.5,427 M281.2,426.5 L283,428.3" stroke="#9fd0f5" stroke-width="0.7"/>
  <circle cx="285.5" cy="429" r="2" fill="#fff" stroke="#2d8ad6" stroke-width="1"/>
  <line x1="286.8" y1="430.3" x2="288.3" y2="431.8" stroke="#2d8ad6" stroke-width="1"/>
</g>
<text x="293.4" y="429.8" font-size="7.6" fill="#1a1a1a" textLength="113.26" lengthAdjust="spacingAndGlyphs" stroke="#1a1a1a" stroke-width="0.15">Source: ForwardKeys Air Ticket Data.</text>
<text x="277" y="462" font-size="11" fill="#c8c8c8" textLength="131" lengthAdjust="spacingAndGlyphs">Source: ForwardKeys Market Report</text>
</svg>
</body></html>
